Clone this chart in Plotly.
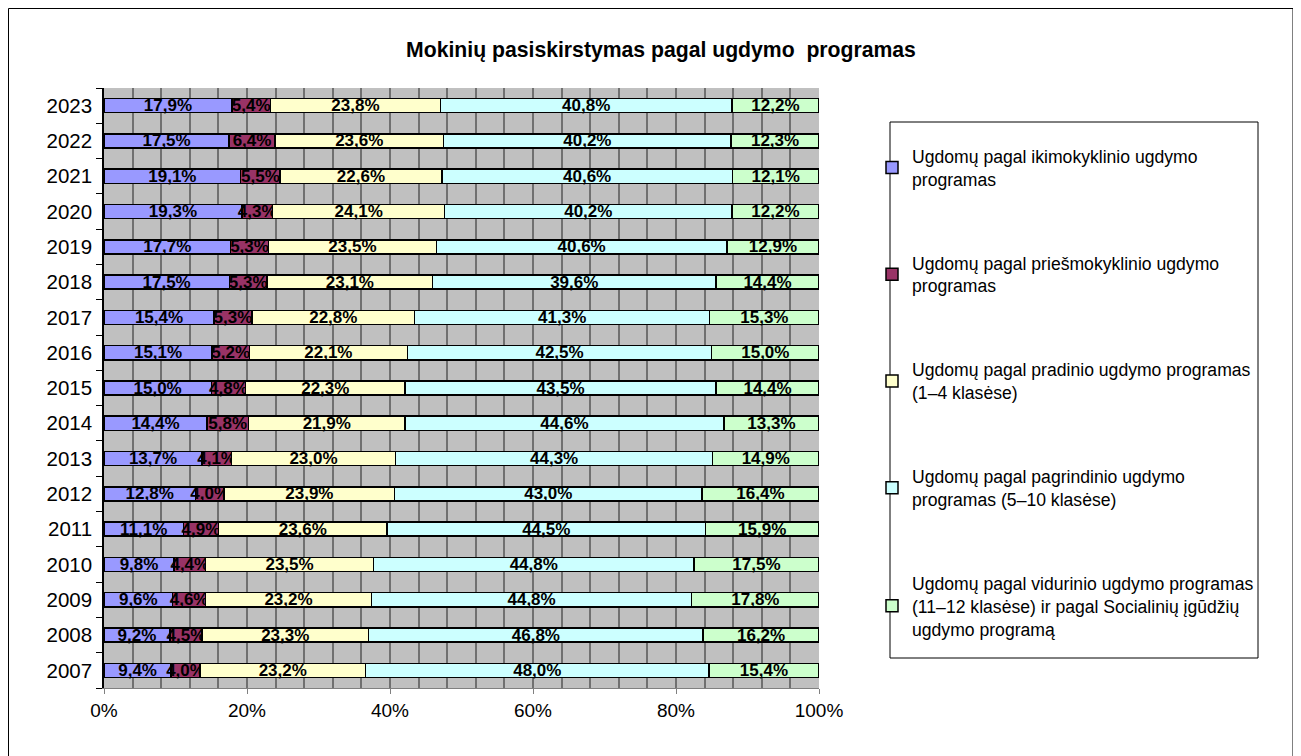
import plotly.graph_objects as go

years = [str(y) for y in range(2007, 2024)]

series_names = [
    "Ugdomų pagal ikimokyklinio ugdymo<br>programas",
    "Ugdomų pagal priešmokyklinio ugdymo<br>programas",
    "Ugdomų pagal pradinio ugdymo programas<br>(1–4 klasėse)",
    "Ugdomų pagal pagrindinio ugdymo<br>programas (5–10 klasėse)",
    "Ugdomų pagal vidurinio ugdymo programas<br>(11–12 klasėse) ir pagal Socialinių įgūdžių<br>ugdymo programą",
]
colors = ["#9999FF", "#993366", "#FFFFCC", "#CCFFFF", "#CCFFCC"]

# values listed 2007 -> 2023
ikimokyklinio = [9.4, 9.2, 9.6, 9.8, 11.1, 12.8, 13.7, 14.4, 15.0, 15.1, 15.4, 17.5, 17.7, 19.3, 19.1, 17.5, 17.9]
priesmokyklinio = [4.0, 4.5, 4.6, 4.4, 4.9, 4.0, 4.1, 5.8, 4.8, 5.2, 5.3, 5.3, 5.3, 4.3, 5.5, 6.4, 5.4]
pradinio = [23.2, 23.3, 23.2, 23.5, 23.6, 23.9, 23.0, 21.9, 22.3, 22.1, 22.8, 23.1, 23.5, 24.1, 22.6, 23.6, 23.8]
pagrindinio = [48.0, 46.8, 44.8, 44.8, 44.5, 43.0, 44.3, 44.6, 43.5, 42.5, 41.3, 39.6, 40.6, 40.2, 40.6, 40.2, 40.8]
vidurinio = [15.4, 16.2, 17.8, 17.5, 15.9, 16.4, 14.9, 13.3, 14.4, 15.0, 15.3, 14.4, 12.9, 12.2, 12.1, 12.3, 12.2]

all_series = [ikimokyklinio, priesmokyklinio, pradinio, pagrindinio, vidurinio]

FONT = "Liberation Sans, Arial, sans-serif"

# figure is drawn 8px in from the page edge (body margin), so sizes are reduced
W, H = 1293, 748
L, T, PW, PH = 96, 80, 715, 600


def px_x(x):
    return (x - L) / PW


def px_y(y):
    return 1 - (y - T) / PH


fig = go.Figure()
for i, (name, vals, col) in enumerate(zip(series_names, all_series, colors)):
    fig.add_trace(go.Bar(
        y=years, x=vals, name=name, orientation="h",
        marker=dict(color=col, line=dict(color="black", width=1.5)),
        text=[f"{v:.1f}%".replace(".", ",") for v in vals],
        textposition="inside", insidetextanchor="middle",
        textangle=0, constraintext="none",
        textfont=dict(family=FONT, size=17, color="black", weight="bold"),
        legendgroup=f"g{i}",
        hoverinfo="skip",
    ))

fig.update_layout(
    width=W, height=H,
    barmode="stack", barnorm="percent", bargap=0.6,
    plot_bgcolor="#C0C0C0", paper_bgcolor="white",
    margin=dict(l=L, r=W - L - PW, t=T, b=H - T - PH),
    font=dict(family=FONT, size=16, color="black"),
    title=dict(text="<b>Mokinių pasiskirstymas pagal ugdymo  programas</b>",
               x=653 / W, xref="container", xanchor="center",
               y=1 - 42 / H, yref="container", yanchor="middle",
               font=dict(family=FONT, size=21.2, color="black")),
    legend=dict(x=px_x(864), xanchor="left",
                y=px_y(130), yanchor="top",
                font=dict(family=FONT, size=17.6, color="black"),
                bgcolor="rgba(0,0,0,0)", borderwidth=0,
                traceorder="grouped", tracegroupgap=58,
                itemclick=False, itemdoubleclick=False),
    showlegend=True,
)

fig.update_xaxes(
    range=[0, 100], tick0=0, dtick=20, ticksuffix="%",
    showgrid=True, gridcolor="#707070", gridwidth=1.5,
    minor=dict(dtick=4, showgrid=True, gridcolor="#707070", gridwidth=1.5,
               ticks=""),
    ticks="outside", ticklen=5, tickcolor="#808080",
    showline=True, linecolor="#808080", linewidth=1,
    tickfont=dict(family=FONT, size=19, color="black"),
    zeroline=False, fixedrange=True,
)
fig.update_yaxes(
    type="category", categoryorder="array", categoryarray=years,
    tickson="boundaries", ticks="outside", ticklen=6, tickcolor="black",
    showline=True, linecolor="black", linewidth=1.5,
    showgrid=False, ticklabelstandoff=6,
    tickfont=dict(family=FONT, size=20.5, color="black"),
    fixedrange=True,
)

# legend frame and outer chart frame
fig.add_shape(type="rect", xref="paper", yref="paper",
              x0=px_x(882), x1=px_x(1250),
              y0=px_y(650), y1=px_y(114),
              line=dict(color="black", width=1), fillcolor="rgba(0,0,0,0)", layer="below")
fig.add_shape(type="rect", xref="paper", yref="paper",
              x0=px_x(0.5), x1=px_x(1285),
              y0=px_y(760), y1=px_y(0.5),
              line=dict(color="black", width=1), fillcolor="rgba(0,0,0,0)", layer="below")

fig.write_html("out.html")
